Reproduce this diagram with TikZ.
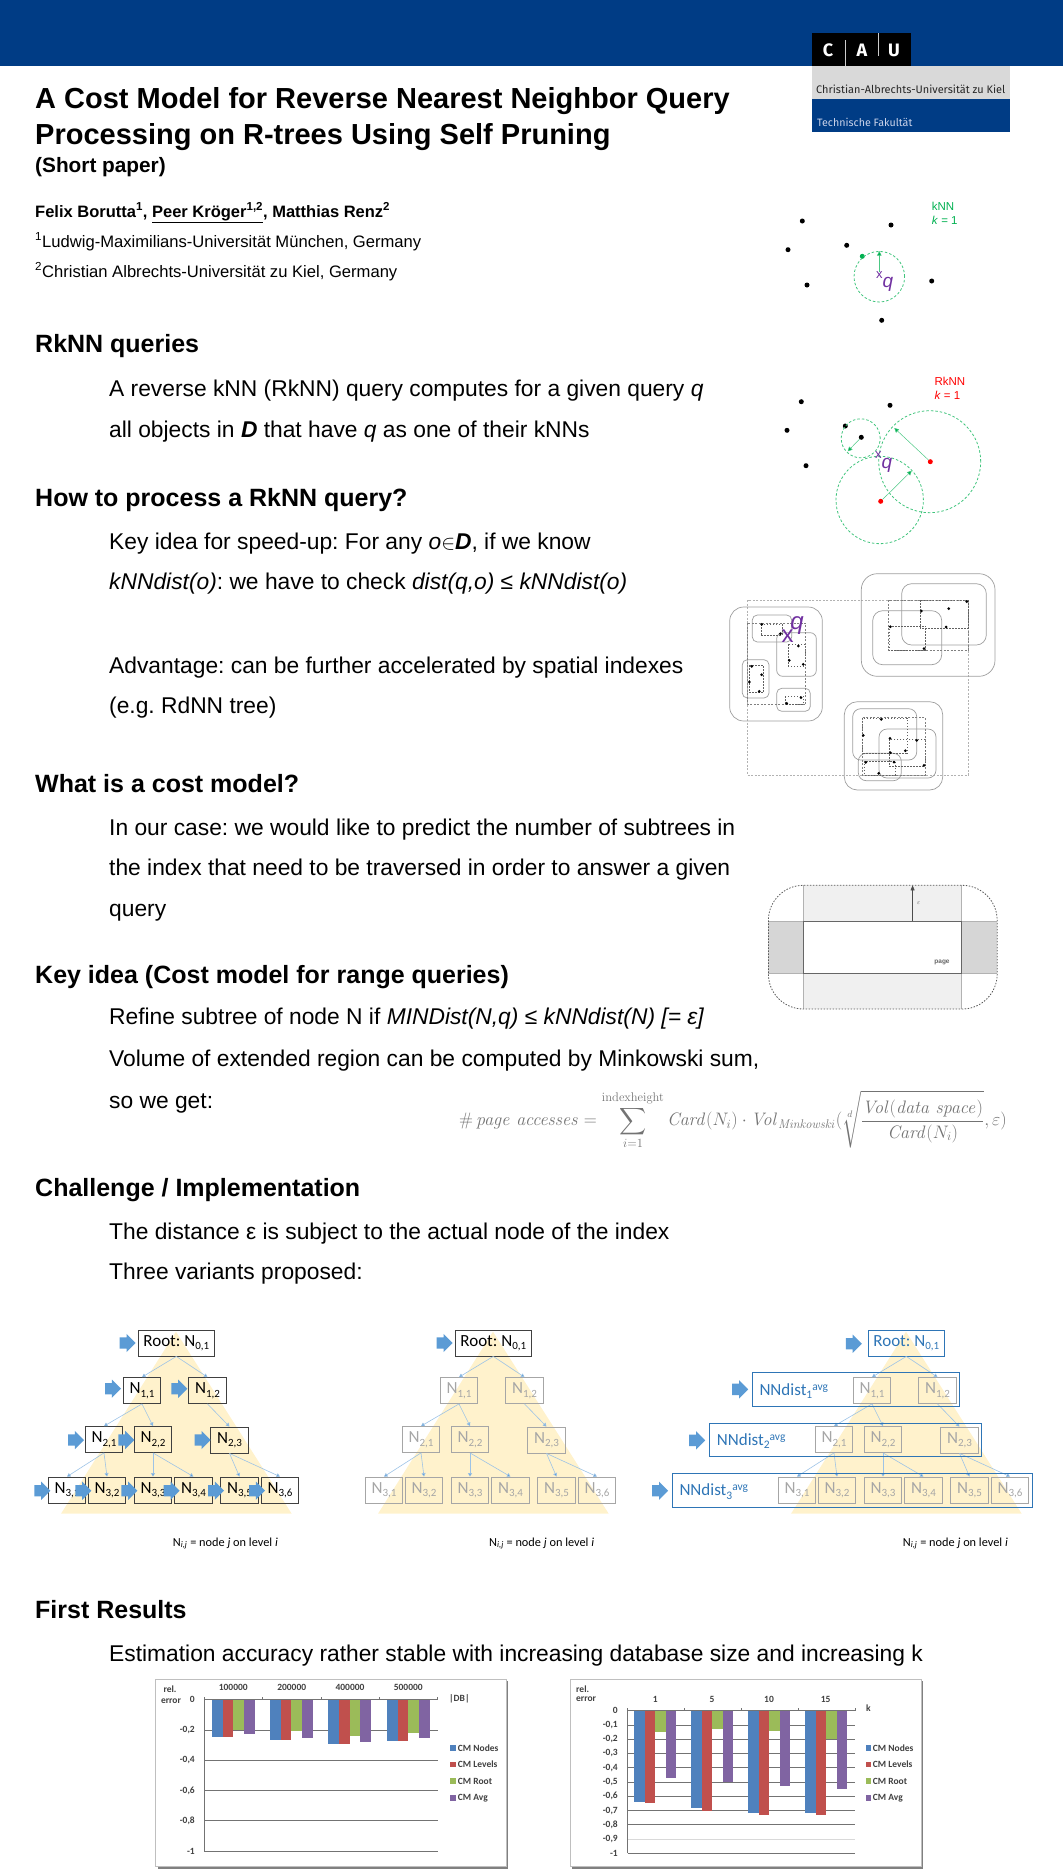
\documentclass[tikz,border=0pt]{standalone}
\usepackage{amsmath,amssymb}
\usepackage[no-math]{fontspec}
\setmainfont{Liberation Sans}
\newfontfamily\calibri{Carlito}
\newfontfamily\din{Fira Sans}
\usetikzlibrary{shapes,positioning,calc,arrows.meta}
\definecolor{barBlue}{HTML}{003C85}
\definecolor{logoGrey}{HTML}{D9D9D9}
\definecolor{logoText}{HTML}{CBD3EA}
\definecolor{knnGreen}{HTML}{00B050}
\definecolor{rknnRed}{HTML}{FF0000}
\definecolor{queryPurple}{HTML}{7030A0}
\definecolor{treeYellow}{HTML}{FFF2CC}
\definecolor{arrowBlue}{HTML}{5B9BD5}
\definecolor{edgeBlue}{HTML}{9DC3E6}
\definecolor{levelBlue}{HTML}{2E75B6}
\definecolor{nodeGrey}{HTML}{A6A6A6}
\definecolor{cmNodes}{HTML}{4F81BD}
\definecolor{cmLevels}{HTML}{C0504D}
\definecolor{cmRoot}{HTML}{9BBB59}
\definecolor{cmAvg}{HTML}{8064A2}
\frenchspacing
\newcommand{\Nij}[2]{N\raisebox{-3.5pt}{\fontsize{11}{11}\selectfont #1,#2}}
\newcommand{\rootlabel}{Root: \Nij{0}{1}}
\newcommand{\nndist}[1]{NNdist\raisebox{-3.5pt}{\fontsize{11.5}{12}\selectfont #1}\raisebox{5pt}{\fontsize{11.5}{12}\selectfont avg}}
\tikzset{
    headtext/.style={anchor=base west,inner sep=0,font=\fontsize{25}{25}\selectfont\bfseries},
    titletext/.style={anchor=base west,inner sep=0,font=\fontsize{29}{29}\selectfont\bfseries},
    bodytext/.style={anchor=base west,inner sep=0,font=\fontsize{22.8}{24}\selectfont},
    smalltext/.style={anchor=base west,inner sep=0,font=\fontsize{16.6}{17}\selectfont},
    dot/.style={circle,fill=black,inner sep=0,minimum size=5pt},
    greendot/.style={dot,fill=knnGreen},
    reddot/.style={dot,fill=rknnRed},
    knncircle/.style={draw=knnGreen!75,dash pattern=on 2.5pt off 2pt,line width=.8pt},
    knnarrow/.style={draw=knnGreen!70,line width=.5pt,-{Triangle[length=4.5pt,width=4.5pt,fill=knnGreen]}},
    querymark/.style={inner sep=0,text=queryPurple},
    rbox/.style={draw=black!38,line width=.7pt},
    mbr/.style={draw=black!62,line width=.4pt,dash pattern=on 1.5pt off 1.5pt},
    mbrlight/.style={draw=black!30,line width=.5pt,dash pattern=on 2pt off 1.5pt},
    treebox/.style={draw,line width=.8pt,minimum height=26pt,inner sep=0,font=\calibri\fontsize{17}{17}\selectfont},
    rootblack/.style={treebox,draw=black!75,text=black,minimum width=76.5pt},
    rootblue/.style={treebox,draw=levelBlue,text=levelBlue,minimum width=76.5pt},
    nodeblack/.style={treebox,draw=black!75,text=black,minimum width=37.5pt},
    nodegrey/.style={treebox,draw=nodeGrey,text=nodeGrey,minimum width=37.5pt},
    treeedge/.style={draw=edgeBlue,line width=.6pt,-{Triangle[length=3.5pt,width=4pt,fill=arrowBlue]}},
    blockarrow/.style={single arrow,fill=arrowBlue,inner sep=0,minimum height=16pt,text height=11pt,text depth=0pt,
        single arrow head extend=3.5pt,single arrow head indent=0pt,anchor=tail,xshift=-8pt},
    levelbox/.style={draw=levelBlue,line width=.9pt},
    levellabel/.style={anchor=base west,inner sep=0,text=levelBlue,font=\calibri\fontsize{17}{17}\selectfont},
    treenote/.style={anchor=base west,inner sep=0,font=\calibri\fontsize{12.3}{13}\selectfont},
    chartframe/.style={draw=black!25,fill=white,line width=1pt},
    chartgrid/.style={draw=black!55,line width=.8pt},
    charttext/.style={inner sep=0,text=black!75,font=\calibri\bfseries\fontsize{9.5}{10}\selectfont},
}
\begin{document}
\begin{tikzpicture}[x=1pt,y=-1pt]
    \useasboundingbox (0,0) rectangle (1063,1869);
    % header and logo
    \fill[barBlue] (0,0) rectangle (1063,65.5);
    \fill[black] (812,33) rectangle (911,66);
    \fill[logoGrey] (812,66) rectangle (1010,99);
    \fill[barBlue] (812,99) rectangle (1010,132);
    \draw[white!80!black,line width=.8pt] (845,40) -- (845,66);
    \draw[white!80!black,line width=.8pt] (878,33) -- (878,56);
    \node[text=white,inner sep=0,font=\din\bfseries\fontsize{18}{18}\selectfont] (logoc) at (828,50) {C};
    \node[text=white,inner sep=0,font=\din\bfseries\fontsize{18}{18}\selectfont] (logoa) at (862,50) {A};
    \node[text=white,inner sep=0,font=\din\bfseries\fontsize{18}{18}\selectfont] (logou) at (894,50) {U};
    \node[anchor=base west,inner sep=0,text=black!85,font=\din\fontsize{10.95}{11}\selectfont] (logouni) at (816,93.5) {Christian-Albrechts-Universität zu Kiel};
    \node[anchor=base west,inner sep=0,text=logoText,font=\din\fontsize{10.7}{11}\selectfont] (logofak) at (817,126) {Technische Fakultät};

    % title block
    \node[titletext] (title1) at (35,108) {A Cost Model for Reverse Nearest Neighbor Query};
    \node[titletext] (title2) at (35,144) {Processing on R-trees Using Self Pruning};
    \node[smalltext,font=\fontsize{20.8}{21}\selectfont\bfseries] (subtitle) at (35,172) {(Short paper)};
    \node[smalltext,font=\fontsize{16.5}{17}\selectfont\bfseries] (authors) at (35,217) {Felix Borutta\textsuperscript{1}, \underline{Peer Kröger\textsuperscript{1,2}}, Matthias Renz\textsuperscript{2}};
    \node[smalltext] (aff1) at (35,247) {\textsuperscript{1}Ludwig-Maximilians-Universität München, Germany};
    \node[smalltext] (aff2) at (35,277) {\textsuperscript{2}Christian Albrechts-Universität zu Kiel, Germany};

    % text sections
    \node[headtext] (head1) at (35,352) {RkNN queries};
    \node[bodytext] (body11) at (109,396) {A reverse kNN (RkNN) query computes for a given query \textit{q}};
    \node[bodytext] (body12) at (109,437) {all objects in \textit{\textbf{D}} that have \textit{q} as one of their kNNs};
    \node[headtext] (head2) at (35,506) {How to process a RkNN query?};
    \node[bodytext] (body21) at (109,549) {Key idea for speed-up: For any \textit{o}$\in$\textit{\textbf{D}}, if we know};
    \node[bodytext] (body22) at (109,589) {\textit{kNNdist(o)}: we have to check \textit{dist(q,o) ≤ kNNdist(o)}};
    \node[bodytext] (body23) at (109,673) {Advantage: can be further accelerated by spatial indexes};
    \node[bodytext] (body24) at (109,713) {(e.g. RdNN tree)};
    \node[headtext] (head3) at (35,792) {What is a cost model?};
    \node[bodytext] (body31) at (109,835) {In our case: we would like to predict the number of subtrees in};
    \node[bodytext] (body32) at (109,875) {the index that need to be traversed in order to answer a given};
    \node[bodytext] (body33) at (109,916) {query};
    \node[headtext] (head4) at (35,983) {Key idea (Cost model for range queries)};
    \node[bodytext] (body41) at (109,1024) {Refine subtree of node N if \textit{MINDist(N,q) ≤ kNNdist(N) [= ε]}};
    \node[bodytext] (body42) at (109,1066) {Volume of extended region can be computed by Minkowski sum,};
    \node[bodytext] (body43) at (109,1108) {so we get:};
    \node[headtext] (head5) at (35,1196) {Challenge / Implementation};
    \node[bodytext] (body51) at (109,1239) {The distance ε is subject to the actual node of the index};
    \node[bodytext] (body52) at (109,1279) {Three variants proposed:};
    \node[headtext] (head6) at (35,1618) {First Results};
    \node[bodytext] (body61) at (109,1661) {Estimation accuracy rather stable with increasing database size and increasing k};

    % kNN example
    \foreach \nm/\px/\py in {k1/802.3/221,k2/891/225,k3/788/249.7,k4/846.7/245.3,k5/807/285,k6/931.7/281,k7/881.7/320.3}
        \node[dot] (\nm) at (\px,\py) {};
    \node[greendot] (k8) at (862.3,256.3) {};
    \node[circle,knncircle,minimum size=50.6pt,inner sep=0] (kcircle) at (879.3,276.7) {};
    \node[querymark,font=\fontsize{13}{13}\selectfont] (kx) at (879.3,275.5) {x};
    \node[querymark,font=\fontsize{19}{19}\selectfont\itshape] (kq) at (888,284) {q};
    \draw[knnarrow] (kx.north) -- (kcircle.north);
    \node[anchor=base west,inner sep=0,text=knnGreen,font=\fontsize{11.5}{12}\selectfont] (knnlab) at (931.7,210.7) {kNN};
    \node[anchor=base west,inner sep=0,text=knnGreen,font=\fontsize{11.5}{12}\selectfont] (knnk) at (931.7,224.7) {\textit{k} = 1};

    % RkNN example
    \foreach \nm/\px/\py in {r1/801.3/401.7,r2/890/405.3,r3/787/430.3,r4/845.3/426,r5/806/465.7,r6/861.3/437.3}
        \node[dot] (\nm) at (\px,\py) {};
    \node[reddot] (r7) at (930.3,461.7) {};
    \node[reddot] (r8) at (880.7,501.3) {};
    \node[circle,knncircle,minimum size=39pt,inner sep=0] (rc1) at (860.7,438.3) {};
    \node[circle,knncircle,minimum size=102pt,inner sep=0] (rc2) at (929.7,461.7) {};
    \node[circle,knncircle,minimum size=87.4pt,inner sep=0] (rc3) at (879.7,500) {};
    \coordinate (re1) at (847.7,451.3);
    \coordinate (re2) at (894.3,428);
    \coordinate (re3) at (911.7,470.7);
    \draw[knnarrow] (r6) -- (re1);
    \draw[knnarrow] (r7) -- (re2);
    \draw[knnarrow] (r8) -- (re3);
    \node[querymark,font=\fontsize{13}{13}\selectfont] (rx) at (878.3,455.5) {x};
    \node[querymark,font=\fontsize{19}{19}\selectfont\itshape] (rq) at (887,465) {q};
    \node[anchor=base west,inner sep=0,text=rknnRed,font=\fontsize{11.5}{12}\selectfont] (rknnlab) at (934.3,385.7) {RkNN};
    \node[anchor=base west,inner sep=0,text=rknnRed,font=\fontsize{11.5}{12}\selectfont] (rknnk) at (934.3,399.7) {\textit{k} = 1};

    % R-tree example
    \draw[mbrlight] (747.7,600) rectangle (968.3,775);
    \foreach \xa/\ya/\xb/\yb/\rad in {729.7/607/822.3/721/14,752.3/615/791.7/642/5,776.7/632.7/816.3/676.3/6,
            742.3/659.7/769/698/5,776.7/688.3/810.3/711.3/5,861.3/573.7/995/676.3/16,901.7/583.7/986.3/645/10,
            872.7/610.7/941.7/664.7/10,844.3/701.7/942.7/790/13,852.7/708.7/916.7/760/8,879/729/936/778/8,858.3/753.3/901.3/780.7/8}
        \draw[rbox,rounded corners=\rad pt] (\xa,\ya) rectangle (\xb,\yb);
    \foreach \xa/\ya/\xb/\yb in {747.7/623.3/805.7/704.7,888.7/600/968.3/650,862.3/717.7/925.3/775}
        \draw[mbrlight,draw=black!50] (\xa,\ya) rectangle (\xb,\yb);
    \foreach \xa/\ya/\xb/\yb in {760.7/624/781.7/635.3,788.3/644.3/805.3/665.7,749/665.3/763.3/692.3,785/696.3/803/704.3,
            920/600/968.3/627.7,888.7/625.7/925.3/650,862.3/717.7/906.7/752.7,889.3/739/925.3/766,864/760.7/895/775}
        \draw[mbr] (\xa,\ya) rectangle (\xb,\yb);
    \foreach \px/\py in {761.7/624.3,780.3/633.7,798.3/646,789.3/660.3,803.3/664.3,751.7/666.3,761.7/674.7,749.3/682,759.3/691.3,
            801/697.7,786.7/703.3,966.7/601.7,948.7/608.7,921.3/611,946/627,890.3/626.7,924/648.7,881.3/719.3,863.3/735.3,
            890/738.3,916.7/740.3,905.3/750.7,890.3/752.7,924/765.3,865.7/762.3,894/762,878.7/773.3}
        \fill (\px,\py) circle (1.5);
    \node[querymark,font=\fontsize{24}{24}\selectfont] (tx) at (787.5,636.5) {x};
    \node[querymark,font=\fontsize{24}{24}\selectfont\itshape] (tq) at (797,626) {q};

    % Minkowski region
    \fill[black!6] (803.4,885.3) rectangle (961,921);
    \fill[black!6] (803.4,973.3) rectangle (961,1009);
    \fill[black!16] (768.4,921) rectangle (803.4,973.3);
    \fill[black!16] (961,921) rectangle (997.2,973.3);
    \draw[black!30,line width=.6pt] (803.4,885.3) -- (803.4,1009);
    \draw[black!30,line width=.6pt] (961,885.3) -- (961,1009);
    \draw[black!30,line width=.6pt] (768.4,921) -- (997.2,921);
    \draw[black!30,line width=.6pt] (768.4,973.3) -- (997.2,973.3);
    \node[draw=black!60,fill=white,line width=1pt,minimum width=157.6pt,minimum height=52.3pt,inner sep=0] (page) at (882.2,947.2) {};
    \draw[black!65,line width=.8pt,dash pattern=on 1.5pt off 1.5pt,rounded corners=35pt] (768.4,885.3) rectangle (997.2,1009);
    \coordinate (epstop) at (page.north |- 0,885.3);
    \draw[black!70,line width=.6pt,-{Triangle[length=5pt,width=4pt]}] ([xshift=30.4pt]page.north) -- ([xshift=30.4pt]epstop);
    \node[inner sep=0,text=black!60,font=\fontsize{6.5}{7}\selectfont\bfseries] (epslab) at (918.6,902.7) {$\varepsilon$};
    \node[inner sep=0,text=black!60,font=\fontsize{6.5}{7}\selectfont\bfseries] (pagelab) at (942,962.7) {page};
    \node[inner sep=0,text=black!55,font=\fontsize{18}{18}\selectfont,transform shape,scale=1.045] (formula) at (733,1120) {$\displaystyle\#\,\mathit{page\ accesses}=\sum_{i=1}^{\mathrm{indexheight}}\mathit{Card}(N_i)\cdot\mathit{Vol}_{\mathit{Minkowski}}(\sqrt[d]{\frac{\mathit{Vol}(\mathit{data\ space})}{\mathit{Card}(N_i)}},\varepsilon)$};

    % three index trees
    \foreach \tree/\dx/\rootsty/\kidsty in {a/0/rootblack/nodeblack,b/317/rootblack/nodegrey,c/730/rootblue/nodegrey} {
        \fill[treeYellow] (176+\dx,1331.7) -- (61+\dx,1513.7) -- (291.7+\dx,1513.7) -- cycle;
        \node[\rootsty] (\tree r) at (176.3+\dx,1343) {\rootlabel};
        \foreach \nm/\cx/\cy/\i/\j in {n11/142/1390.5/1/1,n12/207.5/1390.5/1/2,n21/104/1439.5/2/1,n22/153/1439.5/2/2,
                n23/229.5/1440/2/3,n31/67/1490/3/1,n32/107/1490/3/2,n33/153/1490/3/3,n34/193.5/1490/3/4,n35/239.5/1490/3/5,n36/280/1490/3/6}
            \node[\kidsty] (\tree\nm) at (\cx+\dx,\cy) {\Nij{\i}{\j}};
        \foreach \from/\to in {r/n11,r/n12,n11/n21,n11/n22,n12/n23,n21/n31,n21/n32,n22/n33,n22/n34,n23/n35,n23/n36}
            \draw[treeedge] (\tree\from.south) -- (\tree\to.north);
    }
    \foreach \nm/\ax/\ay in {ar/127.5/1343,a11/112.8/1388.7,a12/179.2/1388.7,a21/75.8/1440,a22/126.2/1440,a23/202.5/1440,
            a31/42.2/1490.7,a32/83.2/1490.7,a33/129.2/1490.7,a34/171.5/1490.7,a35/215.8/1490.7,a36/256.8/1490.7}
        \node[blockarrow] (arrow\nm) at (\ax,\ay) {};
    \node[blockarrow] (arrowbr) at (444.5,1343) {};
    \node[blockarrow] (arrowcr) at (853.7,1343.7) {};
    \node[blockarrow] (arrowc1) at (740,1389.3) {};
    \node[blockarrow] (arrowc2) at (697,1440.3) {};
    \node[blockarrow] (arrowc3) at (660,1490.7) {};
    \node[levelbox,minimum width=206.6pt,minimum height=33.6pt,inner sep=0] (level1) at (856,1389.5) {};
    \node[levelbox,minimum width=272pt,minimum height=33.3pt,inner sep=0] (level2) at (845.3,1439.7) {};
    \node[levelbox,minimum width=360.4pt,minimum height=33.6pt,inner sep=0] (level3) at (852.5,1490.5) {};
    \node[levellabel] (lab1) at (759.3,1395) {\nndist{1}};
    \node[levellabel] (lab2) at (716.7,1445) {\nndist{2}};
    \node[levellabel] (lab3) at (679.3,1495.5) {\nndist{3}};
    \node[treenote] (notea) at (172.7,1546) {N\textsubscript{\textit{i,j}} = node \textit{j} on level \textit{i}};
    \node[treenote] (noteb) at (489,1546) {N\textsubscript{\textit{i,j}} = node \textit{j} on level \textit{i}};
    \node[treenote] (notec) at (902.7,1546) {N\textsubscript{\textit{i,j}} = node \textit{j} on level \textit{i}};

    % left chart
    \fill[black!50] (157.5,1681) rectangle (507.5,1868.5);
    \draw[chartframe] (155.7,1679.3) rectangle (506.2,1866.8);
    \foreach \v [count=\n] in {0,{-0,2},{-0,4},{-0,6},{-0,8},-1} {
        \draw[chartgrid] (204.3,{1699.7+(\n-1)*30.26}) -- (437.7,{1699.7+(\n-1)*30.26});
        \node[charttext,anchor=east] (ytl\n) at (195,{1699.7+(\n-1)*30.26}) {\v};
    }
    \draw[chartgrid] (204.3,1697) -- (204.3,1851);
    \foreach \tx in {262.7,321.3,379.3,437.7}
        \draw[chartgrid] (\tx,1697) -- (\tx,1699.7);
    \foreach \gx/\a/\b/\c/\d in {212/.245/.245/.2/.225,270/.269/.269/.207/.25,328.3/.293/.293/.242/.28,387/.275/.275/.218/.255} {
        \fill[cmNodes] (\gx,1699.7) rectangle ++(10.7,{\a*151.3});
        \fill[cmLevels] (\gx+10.7,1699.7) rectangle ++(10.7,{\b*151.3});
        \fill[cmRoot] (\gx+21.4,1699.7) rectangle ++(10.7,{\c*151.3});
        \fill[cmAvg] (\gx+32.1,1699.7) rectangle ++(10.7,{\d*151.3});
    }
    \node[charttext] (relA) at (170,1689) {rel.};
    \node[charttext] (errA) at (171,1700.7) {error};
    \foreach \lab/\lx [count=\n] in {100000/233.3,200000/291.7,400000/350,500000/408.3}
        \node[charttext] (xtl\n) at (\lx,1687.7) {\lab};
    \node[charttext,anchor=west] (dbsize) at (449,1699) {|DB|};
    \foreach \col/\lab/\ly [count=\n] in {cmNodes/CM Nodes/1748,cmLevels/CM Levels/1764.3,cmRoot/CM Root/1781,cmAvg/CM Avg/1797.7} {
        \fill[\col] (450,\ly-2.8) rectangle (455.6,\ly+2.8);
        \node[charttext,anchor=west] (lega\n) at (457.7,\ly) {\lab};
    }

    % right chart
    \fill[black!50] (571.8,1681) rectangle (922.5,1868.5);
    \draw[chartframe] (570,1679.3) rectangle (921,1866.8);
    \foreach \v [count=\n] in {0,{-0,1},{-0,2},{-0,3},{-0,4},{-0,5},{-0,6},{-0,7},{-0,8},{-0,9},-1} {
        \draw[chartgrid] (627.7,{1710.7+(\n-1)*14.26}) -- (855,{1710.7+(\n-1)*14.26});
        \node[charttext,anchor=east] (ytr\n) at (618,{1710.7+(\n-1)*14.26}) {\v};
    }
    \draw[draw=black!15,line width=.8pt] (627.7,1839) -- (855,1839);
    \draw[chartgrid] (627.7,1708) -- (627.7,1853.3);
    \foreach \tx in {684.3,741.3,798.3,855}
        \draw[chartgrid] (\tx,1708) -- (\tx,1710.7);
    \foreach \gx/\a/\b/\c/\d in {634.3/.64/.65/.15/.475,691.3/.68/.70/.13/.50,748.3/.72/.73/.14/.53,805/.72/.73/.20/.55} {
        \fill[cmNodes] (\gx,1710.7) rectangle ++(10.5,{\a*142.6});
        \fill[cmLevels] (\gx+10.5,1710.7) rectangle ++(10.5,{\b*142.6});
        \fill[cmRoot] (\gx+21,1710.7) rectangle ++(10.5,{\c*142.6});
        \fill[cmAvg] (\gx+31.5,1710.7) rectangle ++(10.5,{\d*142.6});
    }
    \node[charttext,anchor=west] (relB) at (576,1689) {rel.};
    \node[charttext,anchor=west] (errB) at (576,1699) {error};
    \foreach \lab/\lx [count=\n] in {1/655.3,5/712,10/769,15/825.7}
        \node[charttext] (xtr\n) at (\lx,1699) {\lab};
    \node[charttext] (ksize) at (868.3,1707.7) {k};
    \foreach \col/\lab/\ly [count=\n] in {cmNodes/CM Nodes/1748,cmLevels/CM Levels/1764.3,cmRoot/CM Root/1781,cmAvg/CM Avg/1797.7} {
        \fill[\col] (865.7,\ly-2.8) rectangle (871.3,\ly+2.8);
        \node[charttext,anchor=west] (legb\n) at (872.7,\ly) {\lab};
    }
\end{tikzpicture}
\end{document}
